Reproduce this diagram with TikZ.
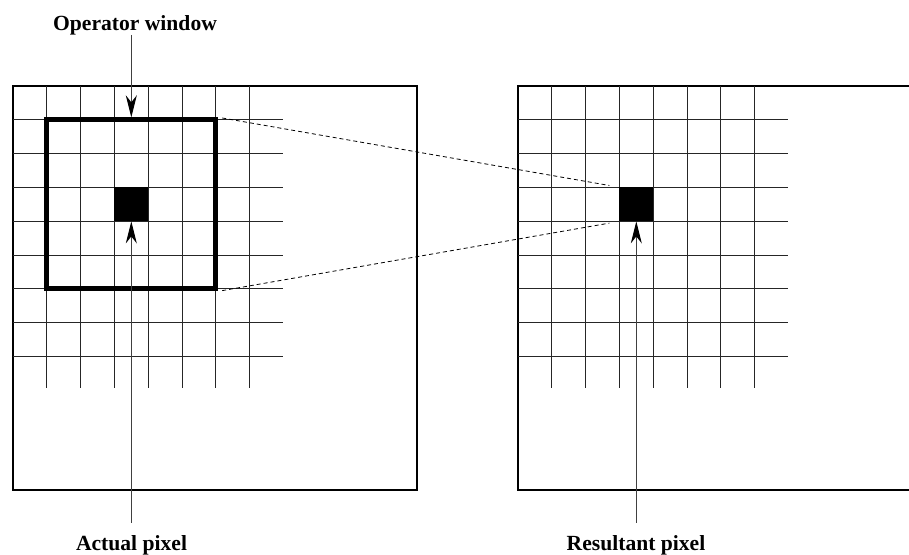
\documentclass[tikz,border=0pt]{standalone}
\usepackage{fontspec}
\setmainfont{Liberation Serif}
\usetikzlibrary{positioning, calc, arrows.meta}

\begin{document}
\begin{tikzpicture}[
    x=1pt, y=-1pt,
    >={Stealth[length=22pt, width=11pt, inset=7pt, black]},
    font=\fontsize{21.6}{26}\selectfont\bfseries,
    gridline/.style={line width=1pt, black!85},
    imgframe/.style={line width=1.3pt},
    window/.style={
        draw,
        line width=5pt,
        minimum width=169pt,
        minimum height=169pt,
        inner sep=0pt
    },
    pixel/.style={
        fill=black,
        minimum size=33.8pt,
        inner sep=0pt
    },
    link/.style={dash pattern=on 4pt off 3pt, line width=0.8pt},
    pointer/.style={->, line width=1pt, black!75},
    caption/.style={inner sep=0pt, anchor=base}
]
\useasboundingbox (0,0) rectangle (909,554);

% Input image
\draw[imgframe] (13,86) rectangle (417,490);
\foreach \k in {1,...,7}
    \draw[gridline] ({13+33.8*\k},86) -- ({13+33.8*\k},388);
\foreach \k in {1,...,8}
    \draw[gridline] (13,{86+33.8*\k}) -- (283.4,{86+33.8*\k});

% Output image
\draw[imgframe] (909,86) -- (518,86) -- (518,490) -- (909,490);
\foreach \k in {1,...,7}
    \draw[gridline] ({518+33.8*\k},86) -- ({518+33.8*\k},388);
\foreach \k in {1,...,8}
    \draw[gridline] (518,{86+33.8*\k}) -- (788.4,{86+33.8*\k});

% Window and pixels
\node[window] (win) at (131.3,204.3) {};
\node[pixel] (apix) at (131.3,204.3) {};
\node[pixel] (rpix) at (636.3,204.3) {};

% Labels
\node[caption] (opwin) at (135,30) {Operator window};
\node[caption] (actual) at (131.5,550) {Actual pixel};
\node[caption] (result) at (636,550) {Resultant pixel};

% Edges
\draw[pointer] (opwin.south -| win.north) -- (win.north);
\draw[pointer] ([yshift=12pt]actual.north -| apix.south) -- (apix.south);
\draw[pointer] ([yshift=12pt]result.north -| rpix.south) -- (rpix.south);

\draw[link, shorten <=4pt, shorten >=10pt] (win.north east) -- (rpix.north west);
\draw[link, shorten <=4pt, shorten >=10pt] (win.south east) -- (rpix.south west);

\end{tikzpicture}
\end{document}
